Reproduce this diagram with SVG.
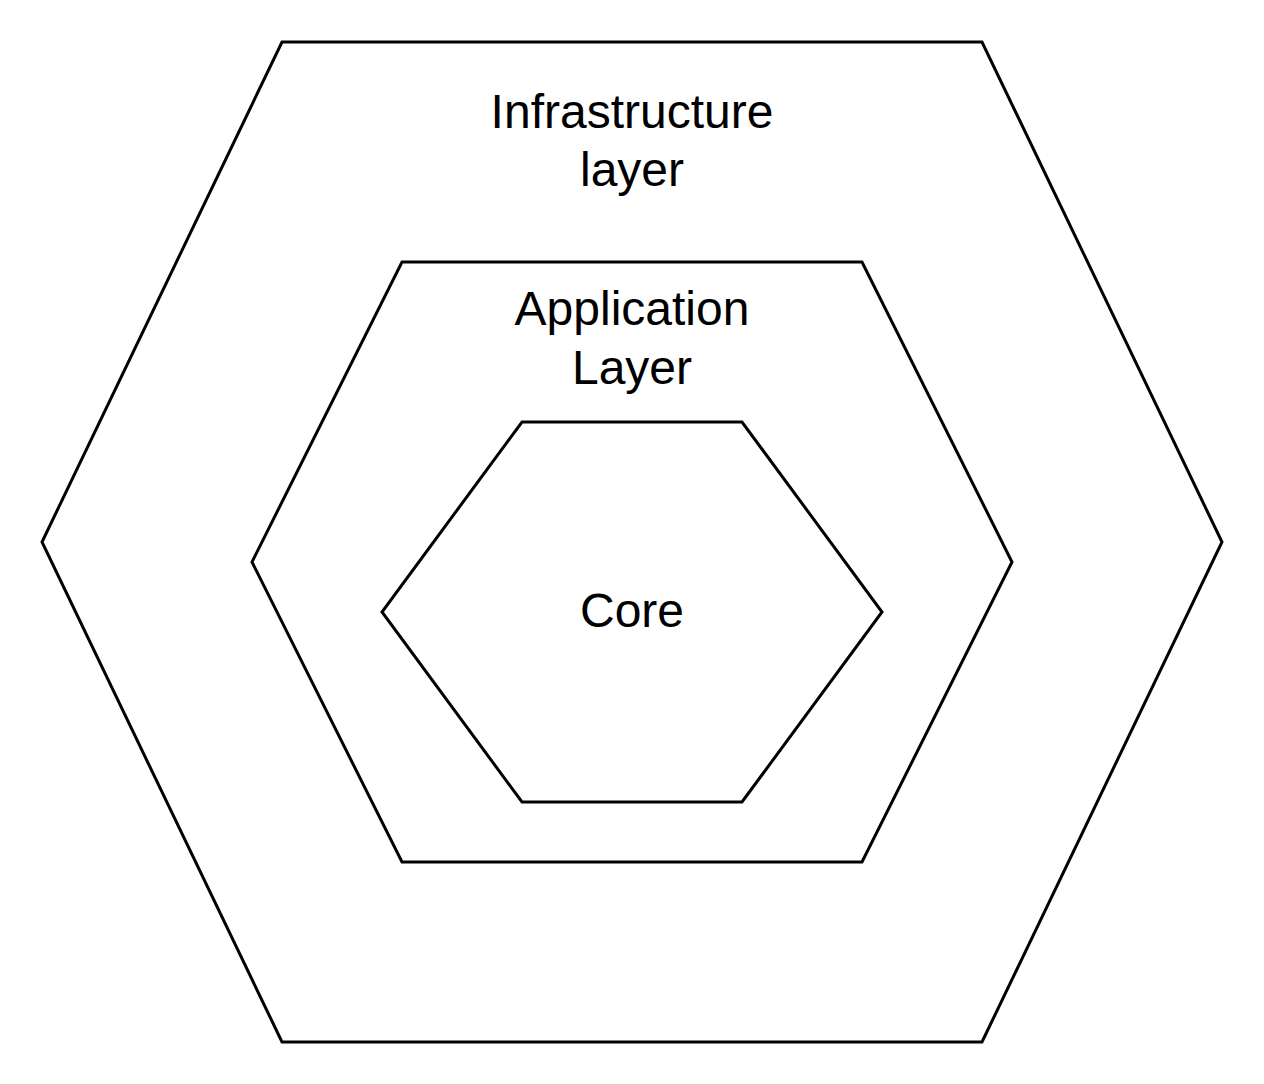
<svg xmlns="http://www.w3.org/2000/svg" width="1264" height="1084" viewBox="0 0 1264 1084">
<style>
.hex{fill:#ffffff;stroke:#000000;stroke-width:3;stroke-linejoin:miter}
.lbl{font-family:"Liberation Sans",Arial,sans-serif;font-size:48px;fill:#000000;text-anchor:middle}
</style>
<rect width="1264" height="1084" fill="#ffffff"/>
<g id="infrastructure">
<polygon class="hex" points="282,42 982,42 1222,542 982,1042 282,1042 42,542"/>
<text class="lbl" x="632" y="128">Infrastructure</text>
<text class="lbl" x="632" y="186">layer</text>
</g>
<g id="application">
<polygon class="hex" points="402,262 862,262 1012,562 862,862 402,862 252,562"/>
<text class="lbl" x="632" y="325">Application</text>
<text class="lbl" x="632" y="384">Layer</text>
</g>
<g id="core">
<polygon class="hex" points="522,422 742,422 882,612 742,802 522,802 382,612"/>
<text class="lbl" x="632" y="627">Core</text>
</g>
<g id="connectors"></g>
</svg>
